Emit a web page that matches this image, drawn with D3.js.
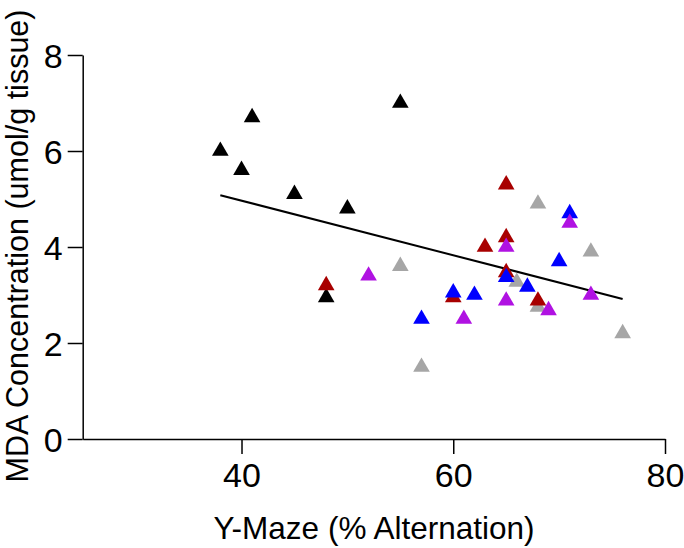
<!DOCTYPE html>
<html>
<head>
<meta charset="utf-8">
<script src="https://cdn.jsdelivr.net/npm/d3@7"></script>
<style>
  html, body { margin: 0; padding: 0; background: #fff; }
  svg { display: block; }
  text { font-family: "Liberation Sans", Arial, sans-serif; fill: #000; }
</style>
</head>
<body>
<svg id="chart" width="684" height="548"></svg>
<script>
// Data, drawing order: black, gray, red, blue, magenta
const groupNames = ["black", "gray", "red", "blue", "magenta"];
const groupColors = ["#000000", "#a6a6a6", "#a80000", "#0000ff", "#b012e2"];

const blackX = [38, 40, 41, 45, 50, 55, 48];
const blackY = [6.0, 5.6, 6.7, 5.1, 4.8, 7.0, 2.95];
const grayX = [55, 57, 66, 68, 68, 73, 76];
const grayY = [3.6, 1.5, 3.27, 4.9, 2.75, 3.9, 2.2];
const redX = [48, 60, 63, 65, 65, 65, 68];
const redY = [3.2, 2.95, 4.0, 5.3, 4.2, 3.47, 2.88];
const blueX = [57, 60, 62, 65, 67, 70, 71];
const blueY = [2.5, 3.05, 3.0, 3.37, 3.17, 3.7, 4.7];
const magentaX = [52, 61, 65, 65, 69, 71, 73];
const magentaY = [3.4, 2.5, 4.0, 2.88, 2.68, 4.5, 3.0];

const xTicks = [40, 60, 80];
const yTicks = [0, 2, 4, 6, 8];
const xDomain = [25, 80];
const yDomain = [0, 8];
const xTitle = "Y-Maze (% Alternation)";
const yTitle = "MDA Concentration (umol/g tissue)";

const groupsX = [blackX, grayX, redX, blueX, magentaX];
const groupsY = [blackY, grayY, redY, blueY, magentaY];

const svg = d3.select("#chart");
const mLeft = 82.7, mRight = 665, mTop = 55, mBottom = 439;

const x = d3.scaleLinear().domain(xDomain).range([mLeft, mRight]);
const y = d3.scaleLinear().domain(yDomain).range([mBottom, mTop]);

// Axes
const xAxis = svg.append("g").attr("transform", `translate(0,${mBottom})`)
  .call(d3.axisBottom(x).tickValues(xTicks).tickSize(15).tickPadding(9).tickSizeOuter(0));
const yAxis = svg.append("g").attr("transform", `translate(${mLeft},0)`)
  .call(d3.axisLeft(y).tickValues(yTicks).tickSize(15).tickPadding(5).tickSizeOuter(0));

[xAxis, yAxis].forEach(g => {
  g.select(".domain").attr("stroke", "#000").attr("stroke-width", 1.5);
  g.selectAll(".tick line").attr("stroke", "#000").attr("stroke-width", 1.5);
  g.selectAll(".tick text").attr("font-size", 34)
    .attr("font-family", "'Liberation Sans', Arial, sans-serif").attr("fill", "#000");
});
yAxis.selectAll(".tick text").attr("dy", "0.36em");

// Titles
svg.append("text").attr("x", 374).attr("y", 539)
  .attr("text-anchor", "middle").attr("font-size", 31.5).text(xTitle);
svg.append("text")
  .attr("transform", `translate(28,246) rotate(-90)`)
  .attr("text-anchor", "middle").attr("font-size", 30.5).text(yTitle);

// Linear regression over all points
const allX = groupsX.flat(), allY = groupsY.flat();
const mx = d3.mean(allX), my = d3.mean(allY);
const slope = d3.sum(allX, (v, i) => (v - mx) * (allY[i] - my)) / d3.sum(allX, v => (v - mx) ** 2);
const intercept = my - slope * mx;
const xr = d3.extent(allX);
svg.append("line")
  .attr("x1", x(xr[0])).attr("y1", y(intercept + slope * xr[0]))
  .attr("x2", x(xr[1])).attr("y2", y(intercept + slope * xr[1]))
  .attr("stroke", "#000").attr("stroke-width", 2);

// Points
const tri = d3.symbol().type(d3.symbolTriangle).size(120);
groupNames.forEach((name, gi) => {
  svg.append("g").attr("class", name)
    .selectAll("path")
    .data(groupsX[gi].map((v, i) => [v, groupsY[gi][i]]))
    .join("path")
    .attr("d", tri)
    .attr("transform", d => `translate(${x(d[0])},${y(d[1])})`)
    .attr("fill", groupColors[gi]);
});
</script>
</body>
</html>
